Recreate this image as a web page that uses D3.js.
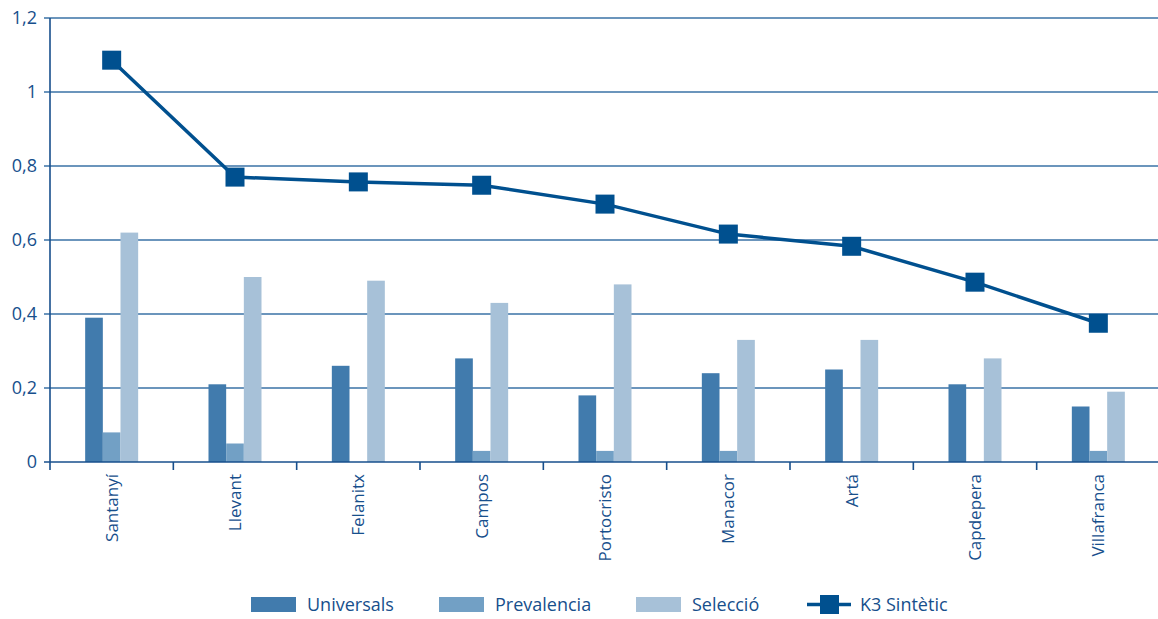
<!DOCTYPE html>
<html><head><meta charset="utf-8">
<script src="https://cdn.jsdelivr.net/npm/d3@7"></script>
<style>body{margin:0;background:#fff}svg{display:block}text{font-family:"Open Sans","Noto Sans",sans-serif;fill:#174f8c}</style>
</head><body><svg id="c" width="1158" height="619"></svg>
<script>
const categories = ["Santanyí","Llevant","Felanitx","Campos","Portocristo","Manacor","Artá","Capdepera","Villafranca"];
const universals = [0.39,0.21,0.26,0.28,0.18,0.24,0.25,0.21,0.15];
const prevalencia = [0.08,0.05,0,0.03,0.03,0.03,0,0,0.03];
const seleccio = [0.62,0.50,0.49,0.43,0.48,0.33,0.33,0.28,0.19];
const k3 = [1.086,0.77,0.757,0.748,0.697,0.616,0.583,0.486,0.375];
const yTicks = [0,0.2,0.4,0.6,0.8,1,1.2];
const seriesNames = ["Universals","Prevalencia","Selecció"];
const lineName = "K3 Sintètic";

const colors = ["#417bad","#72a0c5","#a7c1d8"];
const lineColor = "#00508f";
const svg = d3.select("#c");
const m = {l:50, r:1158, t:18, b:462};
const x = d3.scaleBand().domain(categories).range([m.l, 1160]).paddingInner(0).paddingOuter(0);
const y = d3.scaleLinear().domain([0,1.2]).range([m.b, m.t]);
const fmt = d => String(d).replace(".", ",");

// gridlines
svg.append("g").selectAll("line").data(yTicks.filter(d=>d>0)).join("line")
  .attr("x1", m.l-6).attr("x2", 1158).attr("y1", d=>y(d)).attr("y2", d=>y(d))
  .attr("stroke", "#3a72a6").attr("stroke-width", 1.6);

// y labels
svg.append("g").selectAll("text").data(yTicks).join("text")
  .attr("x", 37).attr("y", d=>y(d)).attr("dy","0.35em").attr("text-anchor","end")
  .style("font-size","18px").text(fmt);

// bars
const series = [universals, prevalencia, seleccio];
const bw = x.bandwidth();
const inner = d3.scaleBand().domain([0,1,2]).range([0, 53]);
series.forEach((vals, si) => {
  svg.append("g").selectAll("rect").data(vals).join("rect")
    .attr("x", (d,i)=> x(categories[i]) + bw/2 - 26.5 + inner(si))
    .attr("width", inner.bandwidth())
    .attr("y", d=>y(d)).attr("height", d=>y(0)-y(d))
    .attr("fill", colors[si]);
});

// axes
svg.append("line").attr("x1", m.l).attr("x2", m.l).attr("y1", m.t).attr("y2", m.b+8)
  .attr("stroke", "#174f8c").attr("stroke-width", 1.6);
svg.append("line").attr("x1", m.l-6).attr("x2", 1158).attr("y1", y(0)).attr("y2", y(0))
  .attr("stroke", "#174f8c").attr("stroke-width", 1.6);
svg.append("g").selectAll("line").data(categories.slice(1)).join("line")
  .attr("x1", d=>x(d)).attr("x2", d=>x(d)).attr("y1", y(0)).attr("y2", y(0)+8)
  .attr("stroke", "#174f8c").attr("stroke-width", 1.6);

// x labels
svg.append("g").selectAll("text").data(categories).join("text")
  .attr("transform", d=>`translate(${x(d)+bw/2+6},474) rotate(-90)`)
  .attr("text-anchor","end").style("font-size","17px").text(d=>d);

// line
const cx = i => x(categories[i]) + bw/2;
svg.append("path").datum(k3)
  .attr("d", d3.line().x((d,i)=>cx(i)).y(d=>y(d)))
  .attr("fill","none").attr("stroke", lineColor).attr("stroke-width", 3.5);
svg.append("g").selectAll("rect").data(k3).join("rect")
  .attr("x", (d,i)=>cx(i)-9.5).attr("y", d=>y(d)-9.5).attr("width",19).attr("height",19)
  .attr("fill", lineColor);

// legend
const lg = svg.append("g");
const legX = [251, 439, 636];
seriesNames.forEach((n,i)=>{
  lg.append("rect").attr("x", legX[i]).attr("y", 597).attr("width", 45).attr("height", 15).attr("fill", colors[i]);
  lg.append("text").attr("x", legX[i]+56).attr("y", 605).attr("dy","0.35em").style("font-size","18px").text(n);
});
lg.append("line").attr("x1", 807).attr("x2", 851).attr("y1", 604.5).attr("y2", 604.5).attr("stroke", lineColor).attr("stroke-width", 3.5);
lg.append("rect").attr("x", 820).attr("y", 595).attr("width", 19).attr("height", 19).attr("fill", lineColor);
lg.append("text").attr("x", 860).attr("y", 605).attr("dy","0.35em").style("font-size","18px").text(lineName);
</script></body></html>
